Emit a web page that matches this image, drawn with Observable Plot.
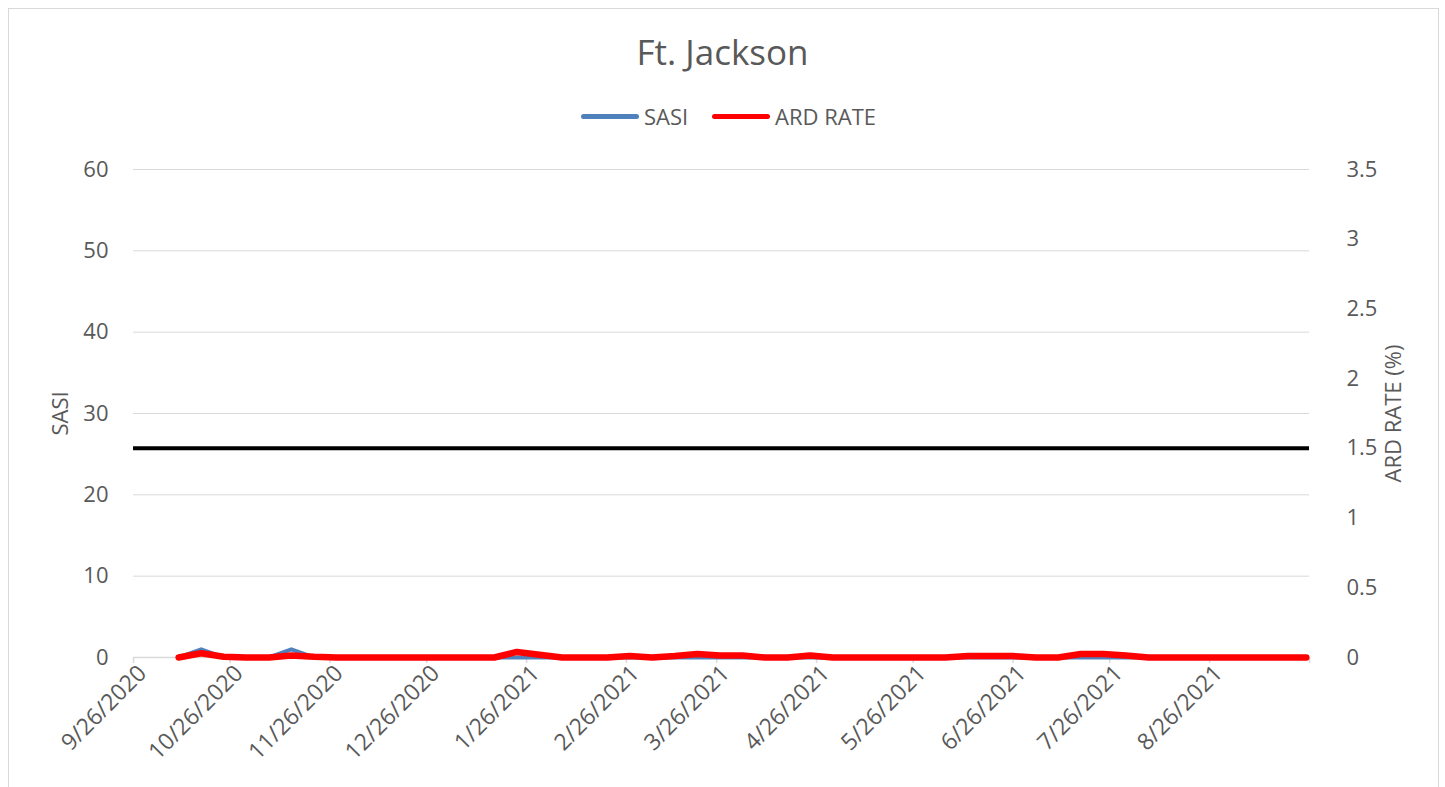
<!DOCTYPE html>
<html>
<head>
<meta charset="utf-8">
<script src="https://cdn.jsdelivr.net/npm/d3@7"></script>
<script src="https://cdn.jsdelivr.net/npm/@observablehq/plot@0.6"></script>
<style>
  html, body { margin: 0; padding: 0; background: #fff; }
  body { width: 1445px; height: 787px; overflow: hidden; position: relative; font-family: "Open Sans", sans-serif; color: #595959; }
  #frame { position: absolute; left: 8px; top: 8px; width: 1431px; height: 800px; border: 1px solid #d9d9d9; box-sizing: border-box; pointer-events: none; }
  #header { position: relative; height: 140px; width: 1445px; }
  #title { position: absolute; left: 0; width: 1445px; top: 29px; text-align: center; font-size: 35px; line-height: 46px; }
  #legend { position: absolute; top: 101px; left: 6px; width: 1445px; display: flex; justify-content: center; font-size: 22px; line-height: 30px; }
  .item { display: flex; align-items: center; margin: 0 12px; }
  .swatch { width: 58px; height: 5px; border-radius: 3px; margin-right: 5px; }
  #chart svg { display: block; }
</style>
</head>
<body>
<div id="frame"></div>
<div id="header">
  <div id="title">Ft. Jackson</div>
  <div id="legend">
    <div class="item"><div class="swatch" style="background:#4f81bd"></div><span>SASI</span></div>
    <div class="item"><div class="swatch" style="background:#ff0000"></div><span>ARD RATE</span></div>
  </div>
</div>
<div id="chart"></div>
<script>
// ---- data ----
const dates = [
  "2020-10-10","2020-10-17","2020-10-24","2020-10-31","2020-11-07","2020-11-14","2020-11-21","2020-11-28",
  "2020-12-05","2020-12-12","2020-12-19","2020-12-26","2021-01-02","2021-01-09","2021-01-16","2021-01-23",
  "2021-01-30","2021-02-06","2021-02-13","2021-02-20","2021-02-27","2021-03-06","2021-03-13","2021-03-20",
  "2021-03-27","2021-04-03","2021-04-10","2021-04-17","2021-04-24","2021-05-01","2021-05-08","2021-05-15",
  "2021-05-22","2021-05-29","2021-06-05","2021-06-12","2021-06-19","2021-06-26","2021-07-03","2021-07-10",
  "2021-07-17","2021-07-24","2021-07-31","2021-08-07","2021-08-14","2021-08-21","2021-08-28","2021-09-04",
  "2021-09-11","2021-09-18","2021-09-25"
];
const sasi = [
  0,1,0,0,0,1,0,0,
  0,0,0,0,0,0,0,0,
  0,0,0,0,0,0,0,0,
  0,0,0,0,0,0,0,0,
  0,0,0,0,0,0,0,0,
  0,0,0,0,0,0,0,0,
  0,0,0
];
const ardRate = [
  0,0.03,0.005,0,0,0.015,0.005,0,
  0,0,0,0,0,0,0,0.04,
  0.02,0,0,0,0.01,0,0.01,0.025,
  0.015,0.015,0,0,0.015,0,0,0,
  0,0,0,0.01,0.01,0.01,0,0,
  0.025,0.025,0.015,0,0,0,0,0,
  0,0,0
];
const ardThreshold = 1.5;
const sasiTicks = [0,10,20,30,40,50,60];
const ardTicks = [0,0.5,1,1.5,2,2.5,3,3.5];
const ardTickLabels = ["0","0.5","1","1.5","2","2.5","3","3.5"];
const xTickDates = ["2020-09-26","2020-10-26","2020-11-26","2020-12-26","2021-01-26","2021-02-26","2021-03-26",
  "2021-04-26","2021-05-26","2021-06-26","2021-07-26","2021-08-26","2021-09-26"];
const xTickLabels = ["9/26/2020","10/26/2020","11/26/2020","12/26/2020","1/26/2021","2/26/2021","3/26/2021",
  "4/26/2021","5/26/2021","6/26/2021","7/26/2021","8/26/2021",""];
const sasiMax = 60, ardMax = 3.5;

// ---- build ----
const toY = v => v * sasiMax / ardMax;
const table = dates.map((d, i) => ({date: new Date(d), sasi: sasi[i], ard: ardRate[i]}));
const xTicks = xTickDates.map(d => new Date(d));
const xLabel = d => { const i = xTicks.findIndex(t => +t === +d); return i >= 0 ? xTickLabels[i] : ""; };
const ardLabel = v => { const i = ardTicks.findIndex(t => Math.abs(toY(t) - v) < 1e-9); return i >= 0 ? ardTickLabels[i] : ""; };
const FS = 22;

const chart = Plot.plot({
  width: 1445,
  height: 647,
  marginLeft: 133,
  marginRight: 136,
  marginTop: 29,
  marginBottom: 130,
  style: {fontFamily: "'Open Sans', sans-serif", fontSize: FS + "px", color: "#595959", background: "transparent"},
  x: {type: "utc", domain: [new Date(xTickDates[0]), new Date(xTickDates[xTickDates.length - 1])]},
  y: {domain: [0, sasiMax]},
  marks: [
    Plot.gridY(sasiTicks.slice(1), {stroke: "#d9d9d9", strokeOpacity: 1, strokeWidth: 1}),
    Plot.ruleY([0], {stroke: "#d9d9d9", strokeWidth: 1.5}),
    Plot.axisY(sasiTicks, {anchor: "left", tickSize: 0, tickPadding: 25, label: null, fill: "#595959", fontSize: FS}),
    Plot.axisY(ardTicks.map(toY), {anchor: "right", tickSize: 0, tickPadding: 37, label: null, fill: "#595959", fontSize: FS, tickFormat: ardLabel}),
    Plot.axisX(xTicks, {anchor: "bottom", tickSize: 6, stroke: "#d9d9d9", strokeWidth: 1.5, label: null, tickFormat: () => ""}),
    Plot.axisX(xTicks, {anchor: "bottom", tickSize: 0, tickRotate: -45, tickPadding: 12, dx: 9, label: null, fill: "#595959", fontSize: 23, tickFormat: xLabel}),
    Plot.text(["SASI"], {frameAnchor: "left", dx: -73, rotate: -90, textAnchor: "middle", fill: "#595959", fontSize: FS}),
    Plot.text(["ARD RATE (%)"], {frameAnchor: "right", dx: 84, rotate: -90, textAnchor: "middle", fill: "#595959", fontSize: FS}),
    Plot.ruleY([toY(ardThreshold)], {stroke: "#000", strokeWidth: 4}),
    Plot.line(table, {x: "date", y: "sasi", stroke: "#4f81bd", strokeWidth: 4, strokeLinejoin: "round"}),
    Plot.line(table, {x: "date", y: d => toY(d.ard), stroke: "#ff0000", strokeWidth: 6.5, strokeLinecap: "round", strokeLinejoin: "round"})
  ]
});
document.getElementById("chart").appendChild(chart);
</script>
</body>
</html>
